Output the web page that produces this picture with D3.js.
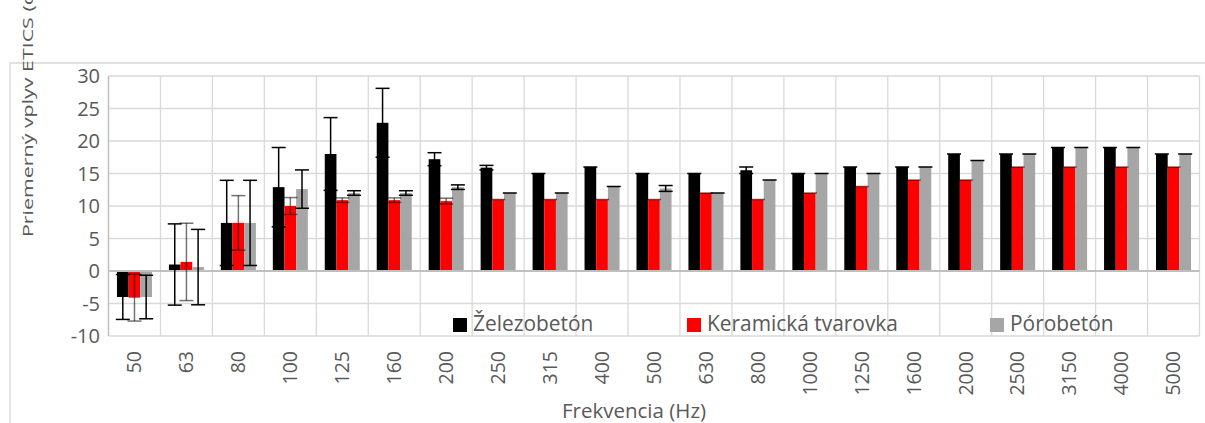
<!DOCTYPE html>
<html>
<head>
<meta charset="utf-8">
<script src="https://cdn.jsdelivr.net/npm/d3@7"></script>
<style>
  body { margin: 0; background: #fff; }
  svg { display: block; font-family: "Open Sans", sans-serif; }
</style>
</head>
<body>
<div id="chart"></div>
<script>
// data
const frekvencie = ["50", "63", "80", "100", "125", "160", "200", "250", "315", "400", "500",
    "630", "800", "1000", "1250", "1600", "2000", "2500", "3150", "4000", "5000"]
const seriesNames = ["Železobetón", "Keramická tvarovka", "Pórobetón"]
const zelezobeton = [-4, 1, 7.4, 12.9, 18, 22.8, 17.2, 15.9, 15, 16, 15, 15, 15.5, 15, 16, 16, 18, 18, 19, 19, 18]
const keramicka = [-4.1, 1.4, 7.4, 10, 10.9, 10.9, 10.75, 11, 11, 11, 11, 12, 11, 12, 13, 14, 14, 16, 16, 16, 16]
const porobeton = [-4, 0.6, 7.4, 12.6, 12, 12, 12.9, 12, 12, 13, 12.7, 12, 14, 15, 15, 16, 17, 18, 19, 19, 18]
const zelezobetonErr = [3.45, 6.25, 6.55, 6.1, 5.6, 5.3, 1.0, 0.35, 0, 0, 0, 0, 0.5, 0, 0, 0, 0, 0, 0, 0, 0]
const keramickaErr = [3.6, 5.95, 4.2, 1.3, 0.35, 0.35, 0.45, 0, 0, 0, 0, 0, 0, 0, 0, 0, 0, 0, 0, 0, 0]
const porobetonErr = [3.35, 5.8, 6.55, 2.95, 0.35, 0.35, 0.35, 0, 0, 0, 0.45, 0, 0, 0, 0, 0, 0, 0, 0, 0, 0]
const yTicks = [-10, -5, 0, 5, 10, 15, 20, 25, 30]

const width = 1205
const height = 423
const margin = ({ top: 76, right: 5.5, bottom: 87, left: 108.5 })

const colors = ["#000000", "#ff0000", "#a6a6a6"]
const errColors = ["#000000", "rgba(0,0,0,0.55)", "#000000"]
const textColor = "#595959"

const values = [zelezobeton, keramicka, porobeton]
const errors = [zelezobetonErr, keramickaErr, porobetonErr]

const rows = []
frekvencie.forEach((f, i) => {
    seriesNames.forEach((s, j) => {
        rows.push({ f: f, s: s, j: j, v: values[j][i], e: errors[j][i] })
    })
})

const x = d3.scaleBand(frekvencie, [margin.left, width - margin.right])
    .paddingInner(0.326).paddingOuter(0.163)
const xs = d3.scaleBand(seriesNames, [0, x.bandwidth()])
const y = d3.scaleLinear([-10, 30], [height - margin.bottom, margin.top])

const svg = d3.select("#chart").append("svg")
    .attr("width", width)
    .attr("height", height)

// outer chart border (only left and top are inside the picture)
svg.append("path")
    .attr("d", `M10,${height}V63H${width}`)
    .attr("fill", "none")
    .attr("stroke", "#d9d9d9")
    .attr("stroke-width", 1.3)

// grid
const step = x.step()
const x0 = margin.left
const x1 = width - margin.right
svg.append("g")
    .attr("stroke", "#d9d9d9")
    .attr("stroke-width", 1.3)
    .call(g => g.selectAll("line.h")
        .data(yTicks.filter(d => d !== 0))
        .join("line")
        .attr("x1", x0).attr("x2", x1)
        .attr("y1", d => y(d)).attr("y2", d => y(d)))
    .call(g => g.selectAll("line.v")
        .data(d3.range(1, frekvencie.length + 1))
        .join("line")
        .attr("x1", d => x0 + d * step).attr("x2", d => x0 + d * step)
        .attr("y1", y(30)).attr("y2", y(-10)))

// y axis line
svg.append("line")
    .attr("x1", x0).attr("x2", x0)
    .attr("y1", y(30)).attr("y2", y(-10))
    .attr("stroke", "#bfbfbf")
    .attr("stroke-width", 1.5)

// bars
svg.append("g")
    .selectAll("rect")
    .data(rows)
    .join("rect")
    .attr("x", d => x(d.f) + xs(d.s))
    .attr("width", xs.bandwidth())
    .attr("y", d => y(Math.max(0, d.v)))
    .attr("height", d => Math.abs(y(d.v) - y(0)))
    .attr("fill", d => colors[d.j])

// zero line
svg.append("line")
    .attr("x1", x0).attr("x2", x1)
    .attr("y1", y(0)).attr("y2", y(0))
    .attr("stroke", "#bfbfbf")
    .attr("stroke-width", 2)

// error bars
const cap = 7
const eb = svg.append("g")
    .attr("stroke-width", 1.5)
    .selectAll("g")
    .data(rows)
    .join("g")
    .attr("stroke", d => errColors[d.j])
    .attr("transform", d => `translate(${x(d.f) + xs(d.s) + xs.bandwidth() / 2},0)`)
eb.filter(d => d.e > 0).append("line")
    .attr("y1", d => y(d.v - d.e)).attr("y2", d => y(d.v + d.e))
eb.append("line")
    .attr("x1", -cap).attr("x2", cap)
    .attr("y1", d => y(d.v + d.e)).attr("y2", d => y(d.v + d.e))
eb.filter(d => d.e > 0).append("line")
    .attr("x1", -cap).attr("x2", cap)
    .attr("y1", d => y(d.v - d.e)).attr("y2", d => y(d.v - d.e))

// y tick labels
svg.append("g")
    .attr("fill", textColor)
    .attr("font-size", 20)
    .attr("text-anchor", "end")
    .selectAll("text")
    .data(yTicks)
    .join("text")
    .attr("x", 100)
    .attr("y", d => y(d))
    .attr("dy", "0.35em")
    .text(d => d)

// x tick labels (rotated)
svg.append("g")
    .attr("fill", textColor)
    .attr("font-size", 19.5)
    .attr("text-anchor", "end")
    .selectAll("text")
    .data(frekvencie)
    .join("text")
    .attr("transform", d => `translate(${x(d) + x.bandwidth() / 2},351) rotate(-90)`)
    .attr("dy", "0.35em")
    .text(d => d)

// axis titles
svg.append("text")
    .attr("x", 634)
    .attr("y", 418)
    .attr("fill", textColor)
    .attr("font-size", 20.5)
    .attr("text-anchor", "middle")
    .text("Frekvencia (Hz)")

// the title runs past the top edge, as in the original
svg.append("text")
    .attr("transform", "translate(33,237) rotate(-90) scale(1,0.68)")
    .attr("fill", textColor)
    .attr("font-size", 21.4)
    .text("Priemerný vplyv ETICS (dB)")

// legend
const legendX = [453, 687, 990]
const legend = svg.append("g")
    .selectAll("g")
    .data(seriesNames)
    .join("g")
    .attr("transform", (d, i) => `translate(${legendX[i]},318)`)
legend.append("rect")
    .attr("width", 14).attr("height", 14)
    .attr("fill", (d, i) => colors[i])
legend.append("text")
    .attr("x", 20)
    .attr("y", 12.7)
    .attr("fill", textColor)
    .attr("font-size", 20.9)
    .text(d => d)
</script>
</body>
</html>
